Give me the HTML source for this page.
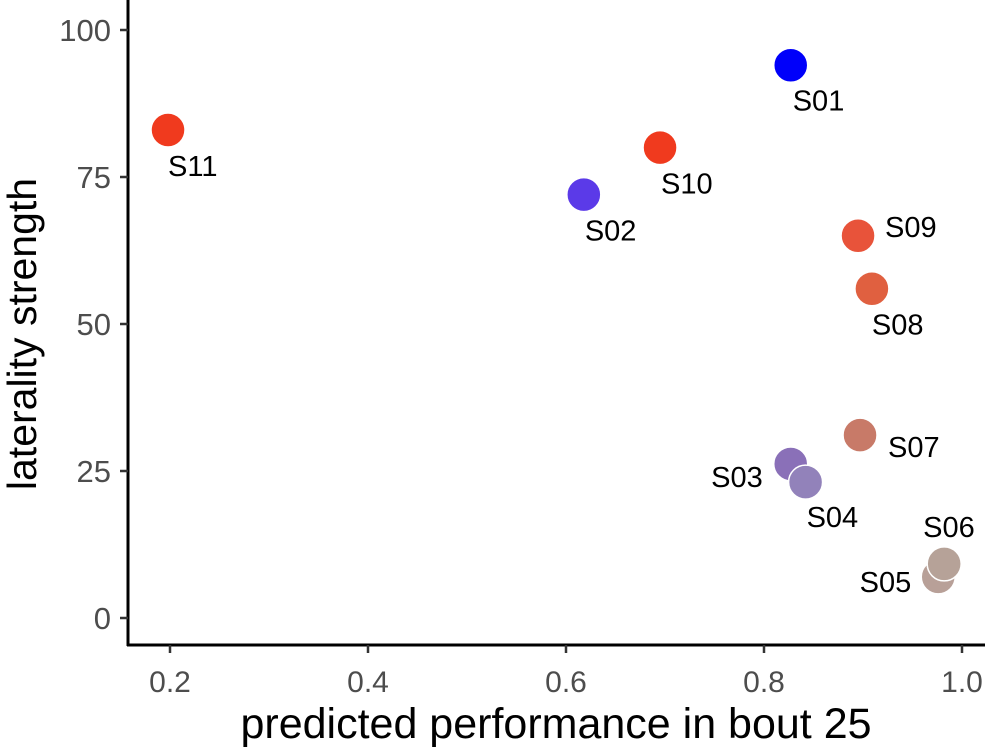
<!DOCTYPE html>
<html><head><meta charset="utf-8"><style>
body{margin:0;background:#fff;}
svg{display:block;font-family:"Liberation Sans",Arial,sans-serif;}
</style></head><body>
<svg id="chart" width="985" height="753" viewBox="0 0 985 753">
<g id="axes"></g><g id="pts"></g>
</svg>
<script>
const labels=["S01","S02","S03","S04","S05","S06","S07","S08","S09","S10","S11"];
const xVals=[0.827,0.618,0.827,0.842,0.976,0.982,0.897,0.909,0.895,0.695,0.198];
const yVals=[94,72,26.2,23.1,7,9.2,31.1,56,65,80,83];
const colors=["#0000fa","#5b3ae8","#8a70b8","#9282ba","#b8a098","#b6a298","#c87a68","#e06040","#e8533a","#f03a1e","#f03a1e"];
const xTicks=[0.2,0.4,0.6,0.8,1.0];
const yTicks=[0,25,50,75,100];
const xTickLabels=["0.2","0.4","0.6","0.8","1.0"];
const yTickLabels=["0","25","50","75","100"];
// label offsets [dx,dy,anchor]
const lab={S01:[2,45,"start"],S02:[1,46,"start"],S03:[-28,23,"end"],S04:[1,45,"start"],S05:[-27,15,"end"],S06:[-21,-27,"start"],S07:[28,22,"start"],S08:[0,46,"start"],S09:[27,1,"start"],S10:[1,46,"start"],S11:[0,46,"start"]};
const X=v=>170+(v-0.2)*990;
const Y=v=>618-v*5.88;
const NS="http://www.w3.org/2000/svg";
function mk(t,a,p){const e=document.createElementNS(NS,t);for(const k in a)e.setAttribute(k,a[k]);p.appendChild(e);return e;}
const ax=document.getElementById('axes');
let l=mk('line',{x1:128,y1:0,x2:128,y2:646,stroke:"#000","stroke-width":3},ax);


l=mk('line',{x1:127,y1:645,x2:985,y2:645,stroke:"#000","stroke-width":3},ax);


xTicks.forEach((v,i)=>{
 const t=mk('line',{x1:X(v),y1:645,x2:X(v),y2:653,stroke:"#333","stroke-width":2.5},ax);
 
 
 const tx=mk('text',{x:X(v),y:692,"text-anchor":"middle","font-size":30,fill:"#4d4d4d"},ax);
 tx.textContent=xTickLabels[i];
 
 
});
yTicks.forEach((v,i)=>{
 const t=mk('line',{x1:120,y1:Y(v),x2:128,y2:Y(v),stroke:"#333","stroke-width":2.5},ax);
 
 
 const tx=mk('text',{x:111,y:Y(v)+11,"text-anchor":"end","font-size":31,fill:"#4d4d4d"},ax);
 tx.textContent=yTickLabels[i];
 
 
});
let tt=mk('text',{x:556,y:738,"text-anchor":"middle","font-size":43,fill:"#000"},ax);
tt.textContent="predicted performance in bout 25";


tt=mk('text',{x:0,y:0,"text-anchor":"middle","font-size":41,fill:"#000",transform:"translate(36,334) rotate(-90)"},ax);
tt.textContent="laterality strength";


const pg=document.getElementById('pts');
labels.forEach((s,i)=>{
 const c=mk('circle',{cx:X(xVals[i]),cy:Y(yVals[i]),r:17,fill:colors[i],stroke:"#fff","stroke-width":1.5},pg);
 
 
});
labels.forEach((s,i)=>{
 const o=lab[s];
 const t=mk('text',{x:X(xVals[i])+o[0],y:Y(yVals[i])+o[1],"text-anchor":o[2],"font-size":29,fill:"#000"},pg);
 t.textContent=s;
 
 
});
</script>
</body></html>
